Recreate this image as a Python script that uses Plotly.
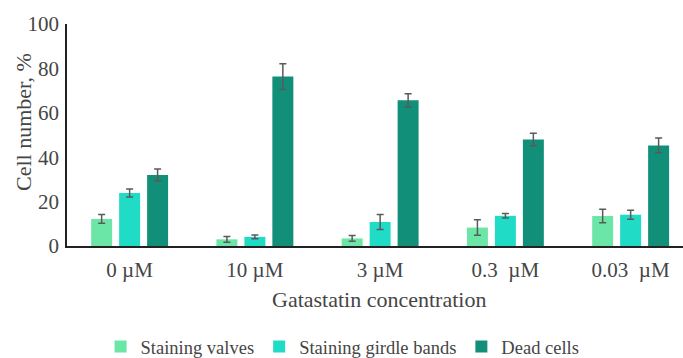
import plotly.graph_objects as go

categories = ["0 µM", "10 µM", "3 µM", "0.3\u00a0\u00a0µM", "0.03\u00a0\u00a0µM"]
series_names = ["Staining valves", "Staining girdle bands", "Dead cells"]
valves = [12.2, 3.0, 3.4, 8.3, 13.5]
valves_err = [2.0, 1.3, 1.3, 3.5, 3.0]
girdle = [23.9, 4.1, 10.8, 13.6, 14.1]
girdle_err = [1.8, 0.8, 3.4, 1.0, 2.0]
dead = [32.0, 76.3, 65.6, 48.0, 45.3]
dead_err = [2.7, 5.8, 3.0, 2.8, 3.3]
colors = ["#6ce6a6", "#20dcc6", "#128f78"]
x_title = "Gatastatin concentration"
y_title = "Cell number, %"

fig = go.Figure()
for name, vals, errs, col in zip(series_names, [valves, girdle, dead],
                                 [valves_err, girdle_err, dead_err], colors):
    fig.add_trace(go.Bar(
        x=categories, y=vals, name=name,
        marker=dict(color=col, line=dict(width=0)),
        error_y=dict(type="data", array=errs, visible=True,
                     color="#5a5a5a", thickness=1.5, width=3.5),
    ))

font = "Liberation Serif, Times New Roman, serif"
txt = "#454545"
fig.update_layout(
    width=683, height=358,
    margin=dict(l=67, r=0, t=24, b=112, autoexpand=False),
    paper_bgcolor="white", plot_bgcolor="white",
    barmode="group", bargap=0.33, bargroupgap=0.25,
    font=dict(family=font, size=21, color=txt),
    showlegend=True,
    legend=dict(orientation="h", x=0.0545, xanchor="left", y=-0.455, yanchor="middle",
                font=dict(family=font, size=18.5, color=txt),
                traceorder="normal"),
    xaxis=dict(
        range=[-0.5, 4.418], showline=True, linecolor="#222222", linewidth=1.5,
        showgrid=False, ticks="", tickfont=dict(size=21), automargin=False,
        ticklabelstandoff=4,
    ),
    yaxis=dict(
        range=[0, 100], tickvals=[0, 20, 40, 60, 80, 100],
        showline=True, linecolor="#222222", linewidth=1.5,
        showgrid=False, ticks="", zeroline=False, tickfont=dict(size=21),
        automargin=False, ticklabelstandoff=2,
    ),
    annotations=[
        dict(text=x_title, xref="paper", yref="paper", x=0.5065, y=-0.2432,
             xanchor="center", yanchor="middle", showarrow=False,
             font=dict(family=font, size=22, color=txt)),
        dict(text=y_title, xref="paper", yref="paper", x=-0.0698, y=0.5586,
             xanchor="center", yanchor="middle", showarrow=False, textangle=-90,
             font=dict(family=font, size=22, color=txt)),
    ],
)

fig.write_html("out.html", config={"displayModeBar": False},
               post_script="document.body.style.margin='0';document.body.style.overflow='hidden';")
